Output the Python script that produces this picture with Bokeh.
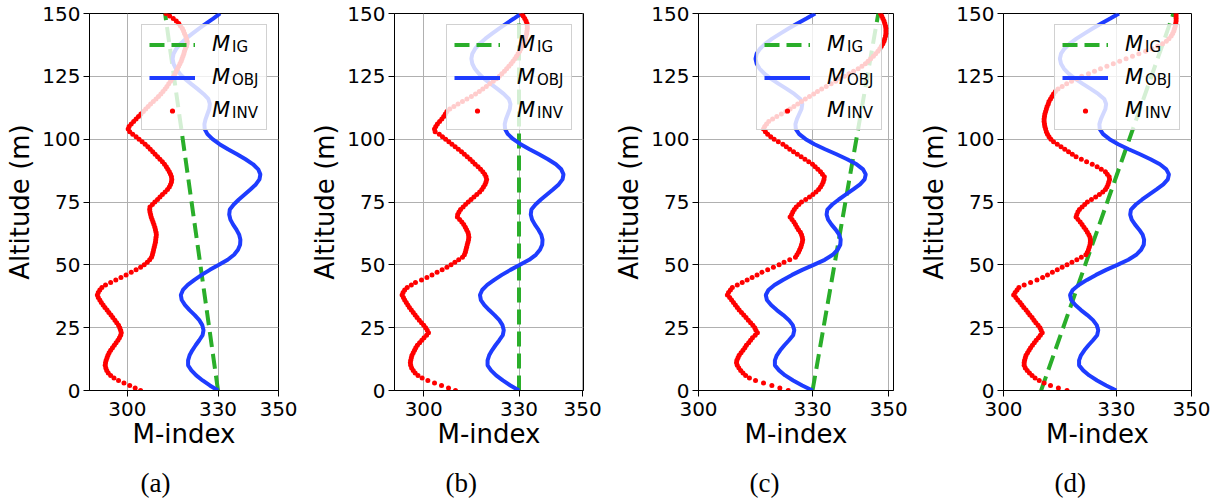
from bokeh.plotting import figure
from bokeh.models import Range1d, FixedTicker, Legend, LegendItem, Title
from bokeh.layouts import row
from bokeh.embed import file_html
from bokeh.resources import INLINE

# ---------------- data ----------------
altitude = list(range(0, 151))          # M_INV sampled every 1 m
obj_altitude = list(range(0, 151, 2))   # M_OBJ profile, every 2 m
ig_altitude = [0, 150]

x_ticks = [300, 330, 350]
y_ticks = [0, 25, 50, 75, 100, 125, 150]
captions = ["(a)", "(b)", "(c)", "(d)"]
legend_subscripts = ["IG", "OBJ", "INV"]

m_obj = [
    330.0, 327.3, 324.9, 322.8, 321.2, 320.1, 320.1, 320.6, 321.5, 322.6,
    323.8, 324.9, 325.2, 324.8, 323.8, 322.3, 320.6, 319.1, 318.0, 317.7,
    318.4, 320.0, 322.2, 324.6, 327.3, 330.3, 333.2, 335.3, 336.6, 337.3,
    337.4, 337.0, 336.1, 335.0, 334.1, 333.7, 333.9, 335.2, 336.9, 338.8,
    340.7, 342.5, 343.7, 344.0, 343.3, 341.6, 339.1, 336.3, 333.3, 330.5,
    328.2, 326.5, 325.6, 325.5, 325.9, 326.5, 327.1, 327.3, 326.8, 325.2,
    323.2, 321.1, 319.1, 317.4, 316.1, 315.3, 315.0, 315.3, 316.2, 317.6,
    319.4, 321.5, 323.7, 326.0, 328.4, 330.7,
]

m_ig_a = [330.0, 312.5]
m_ig_b = [330.0, 330.0]
m_ig_c = [330.0, 347.3]
m_ig_d = [310.0, 345.2]

m_inv_a = [
    304.4, 302.6, 300.8, 298.9, 297.1, 295.6, 294.5, 293.7, 293.2, 292.9,
    292.7, 292.8, 293.0, 293.3, 293.6, 294.0, 294.5, 295.1, 295.7, 296.3,
    296.9, 297.4, 297.8, 298.0, 297.8, 297.5, 297.1, 296.5, 295.9, 295.2,
    294.6, 293.9, 293.3, 292.6, 292.0, 291.4, 290.9, 290.4, 290.1, 290.4,
    290.9, 291.6, 292.8, 294.5, 296.2, 297.9, 299.6, 301.3, 302.9, 304.4,
    305.6, 306.6, 307.4, 308.0, 308.3, 308.5, 308.7, 308.9, 309.1, 309.3,
    309.4, 309.5, 309.6, 309.5, 309.3, 309.1, 308.8, 308.5, 308.2, 307.9,
    307.7, 307.5, 307.4, 307.5, 308.3, 309.1, 310.0, 310.8, 311.6, 312.5,
    313.3, 313.9, 314.3, 314.6, 314.7, 314.6, 314.3, 313.9, 313.4, 312.9,
    312.3, 311.6, 310.8, 310.0, 309.2, 308.4, 307.6, 306.8, 305.9, 304.9,
    303.9, 302.9, 301.8, 300.8, 300.3, 300.6, 301.3, 302.1, 302.9, 303.7,
    304.5, 305.3, 306.1, 306.9, 307.7, 308.6, 309.5, 310.3, 311.1, 311.8,
    312.5, 313.1, 313.7, 314.3, 314.8, 315.3, 315.8, 316.2, 316.6, 317.0,
    317.4, 317.8, 318.1, 318.4, 318.7, 318.9, 319.2, 319.6, 319.8, 319.8,
    319.6, 319.3, 318.9, 318.6, 318.2, 317.6, 317.0, 316.2, 315.2, 314.0,
    312.8,
]

m_inv_b = [
    310.0, 307.8, 305.6, 303.4, 301.3, 299.5, 298.2, 297.3, 296.7, 296.2,
    295.9, 295.8, 295.9, 296.1, 296.3, 296.7, 297.1, 297.5, 298.0, 298.7,
    299.4, 300.1, 300.9, 301.5, 301.1, 300.6, 300.0, 299.3, 298.6, 297.9,
    297.3, 296.7, 296.1, 295.5, 295.0, 294.5, 294.0, 293.6, 293.2, 293.5,
    294.0, 294.8, 296.1, 297.4, 299.3, 301.0, 302.6, 304.2, 305.8, 307.3,
    308.6, 309.8, 311.0, 312.2, 312.8, 313.1, 313.3, 313.5, 313.7, 313.9,
    314.1, 314.2, 314.1, 313.9, 313.5, 313.1, 312.6, 312.0, 311.3, 310.6,
    310.7, 311.1, 311.6, 312.4, 313.2, 314.0, 314.9, 315.8, 316.7, 317.6,
    318.3, 318.8, 319.3, 319.6, 319.8, 319.6, 319.2, 318.6, 317.9, 317.1,
    316.2, 315.4, 314.6, 313.7, 312.8, 311.9, 310.9, 309.9, 308.9, 307.9,
    306.9, 305.9, 304.9, 303.6, 303.4, 303.8, 304.3, 305.0, 305.7, 306.3,
    306.8, 307.3, 308.2, 309.5, 310.8, 312.2, 313.6, 315.0, 316.3, 317.5,
    318.6, 319.7, 320.8, 321.9, 322.9, 323.8, 324.6, 325.4, 326.1, 326.8,
    327.5, 328.1, 328.7, 329.2, 329.7, 330.2, 330.6, 331.0, 331.4, 331.7,
    332.0, 332.2, 332.4, 332.5, 332.6, 332.6, 332.5, 332.2, 331.8, 331.3,
    330.8,
]

m_inv_c = [
    323.6, 321.4, 319.3, 317.1, 315.0, 313.4, 312.4, 311.7, 311.1, 310.6,
    310.2, 310.0, 310.1, 310.4, 310.7, 311.2, 311.7, 312.2, 312.6, 313.2,
    313.7, 314.2, 314.9, 315.5, 315.1, 314.8, 314.3, 313.7, 313.1, 312.5,
    311.9, 311.3, 310.7, 310.2, 309.7, 309.2, 308.7, 308.2, 307.6, 307.9,
    308.4, 308.9, 310.2, 311.5, 312.8, 314.1, 315.4, 316.7, 318.2, 319.7,
    321.2, 322.5, 324.0, 325.5, 325.9, 326.3, 326.6, 326.9, 327.1, 327.3,
    327.4, 327.3, 327.1, 326.8, 326.3, 325.9, 325.5, 325.1, 324.6, 324.1,
    324.5, 324.8, 325.2, 325.7, 326.4, 327.1, 328.2, 329.2, 330.1, 330.9,
    331.6, 332.1, 332.5, 332.8, 333.0, 333.1, 332.6, 332.1, 331.4, 330.7,
    330.0, 329.0, 328.0, 327.0, 326.0, 325.0, 324.0, 323.1, 322.2, 321.0,
    319.9, 319.0, 318.2, 317.6, 317.1, 317.4, 317.9, 318.5, 319.5, 320.6,
    321.8, 323.0, 324.1, 325.1, 326.1, 327.1, 328.1, 329.2, 330.3, 331.3,
    332.4, 333.6, 334.9, 336.1, 337.3, 338.4, 339.6, 340.8, 342.0, 343.0,
    343.9, 344.6, 345.3, 346.0, 346.6, 347.2, 347.7, 348.1, 348.5, 348.8,
    349.0, 349.2, 349.3, 349.3, 349.3, 349.2, 349.0, 348.8, 348.5, 348.2,
    347.9,
]

m_inv_d = [
    316.9, 314.6, 312.5, 310.8, 309.5, 308.4, 307.6, 306.9, 306.3, 305.8,
    305.5, 305.5, 305.6, 305.8, 306.0, 306.4, 306.8, 307.2, 307.7, 308.2,
    308.7, 309.3, 309.8, 310.3, 310.0, 309.7, 309.2, 308.6, 308.1, 307.6,
    307.0, 306.5, 306.0, 305.4, 304.9, 304.4, 303.8, 303.3, 302.7, 303.1,
    303.6, 304.1, 305.5, 307.2, 308.9, 310.4, 311.7, 313.0, 314.3, 315.6,
    316.9, 318.2, 319.5, 320.7, 321.9, 322.3, 322.6, 322.8, 323.0, 323.1,
    323.1, 323.0, 322.7, 322.3, 321.9, 321.4, 320.9, 320.4, 319.8, 319.3,
    319.5, 319.8, 320.2, 320.9, 321.6, 322.3, 323.4, 324.5, 325.5, 326.4,
    327.1, 327.5, 327.8, 328.0, 328.2, 328.1, 327.6, 327.1, 326.0, 324.9,
    323.6, 322.1, 320.7, 319.3, 318.3, 317.3, 316.3, 315.3, 314.3, 313.3,
    312.6, 312.1, 311.7, 311.4, 311.2, 311.0, 310.9, 310.8, 310.8, 310.9,
    311.0, 311.2, 311.4, 311.6, 311.9, 312.1, 312.5, 312.9, 313.3, 313.8,
    314.5, 315.6, 316.8, 318.1, 319.5, 320.8, 322.6, 324.2, 325.8, 327.5,
    329.2, 330.9, 332.6, 334.3, 336.0, 337.8, 339.5, 341.0, 342.3, 343.3,
    344.0, 344.6, 345.0, 345.3, 345.5, 345.7, 345.8, 345.9, 345.9, 345.9,
    345.9,
]

for s in (m_inv_a, m_inv_b, m_inv_c, m_inv_d):
    assert len(s) == len(altitude), len(s)
assert len(m_obj) == len(obj_altitude), len(m_obj)

# ---------------- style / layout ----------------
FONT = "DejaVu Sans"
GREEN = "#2aae2a"
BLUE = "#1e3cff"
RED = "#ff0000"
FRAME_H = 377

panels = [
    dict(cap=captions[0], ig=m_ig_a, inv=m_inv_a, xr=(287.5, 350.0), fw=189, bl=89, br=29),
    dict(cap=captions[1], ig=m_ig_b, inv=m_inv_b, xr=(290.8, 350.3), fw=189, bl=87, br=28),
    dict(cap=captions[2], ig=m_ig_c, inv=m_inv_c, xr=(300.0, 351.3), fw=195, bl=87, br=23),
    dict(cap=captions[3], ig=m_ig_d, inv=m_inv_d, xr=(300.0, 350.0), fw=188, bl=87, br=24),
]


def make_panel(cfg):
    x0, x1 = cfg["xr"]
    W = cfg["fw"]
    p = figure(
        frame_width=W, frame_height=FRAME_H,
        min_border_left=cfg["bl"], min_border_right=cfg["br"],
        min_border_top=13, min_border_bottom=40,
        x_range=Range1d(x0, x1), y_range=Range1d(0, 150),
        output_backend="svg", toolbar_location=None,
        background_fill_color="white", border_fill_color="white",
    )
    p.outline_line_color = "black"
    p.outline_line_width = 1
    p.outline_line_alpha = 1

    p.xaxis.ticker = FixedTicker(ticks=x_ticks)
    p.yaxis.ticker = FixedTicker(ticks=y_ticks)
    for ax in (p.xaxis[0], p.yaxis[0]):
        ax.major_label_text_font = FONT
        ax.major_label_text_font_size = "20px"
        ax.major_label_text_color = "black"
        ax.axis_label_text_font = FONT
        ax.axis_label_text_font_size = "26px"
        ax.axis_label_text_font_style = "normal"
        ax.axis_label_text_color = "black"
        ax.major_tick_in = 0
        ax.major_tick_out = 6
        ax.major_tick_line_color = "black"
        ax.minor_tick_line_color = None
        ax.axis_line_color = "black"
    p.xaxis.axis_label = "M-index"
    p.yaxis.axis_label = "Altitude (m)"
    p.xaxis.major_label_standoff = 5
    p.xaxis.axis_label_standoff = 0
    p.yaxis.major_label_standoff = 3
    p.yaxis.axis_label_standoff = 4

    p.grid.grid_line_color = "#b0b0b0"
    p.grid.grid_line_width = 1

    r_ig = p.line(cfg["ig"], ig_altitude, line_color=GREEN, line_width=4,
                  line_dash="15 7")
    r_obj = p.line(m_obj, obj_altitude, line_color=BLUE, line_width=4)
    r_inv = p.scatter(cfg["inv"], altitude, size=5, fill_color=RED,
                      line_color=None, marker="circle")
    rends = [r_ig, r_obj, r_inv]

    # main legend: box, glyph samples and the italic "M"
    legend = Legend(
        items=[LegendItem(label="M", renderers=[r]) for r in rends],
        location="top_right", margin=11, padding=7, spacing=9,
        glyph_width=46, glyph_height=13, label_height=13, label_width=47,
        label_standoff=17,
        label_text_font=FONT, label_text_font_style="italic",
        label_text_font_size="21px", label_text_color="black",
        background_fill_color="white", background_fill_alpha=0.8,
        border_line_color="#cccccc", border_line_alpha=0.9, border_line_width=1,
        level="glyph",
    )
    p.add_layout(legend, "center")

    # transparent second legend that only carries the subscripts
    sub_legend = Legend(
        items=[LegendItem(label=s, renderers=[r])
               for s, r in zip(legend_subscripts, rends)],
        location="top_right", margin=11, padding=8, spacing=3,
        glyph_width=0, glyph_height=30, label_height=30, label_width=27,
        label_standoff=0,
        label_text_font=FONT, label_text_font_size="15px",
        label_text_color="black",
        background_fill_alpha=0, border_line_alpha=0,
    )
    p.add_layout(sub_legend, "center")

    p.add_layout(Title(text=cfg["cap"], align="left", offset=51,
                       text_font="Liberation Serif", text_font_size="27px",
                       text_font_style="normal", text_color="black",
                       standoff=29), "below")
    return p


figs = [make_panel(c) for c in panels]
layout = row(*figs, spacing=0)

open("out.html", "w").write(file_html(layout, INLINE))
